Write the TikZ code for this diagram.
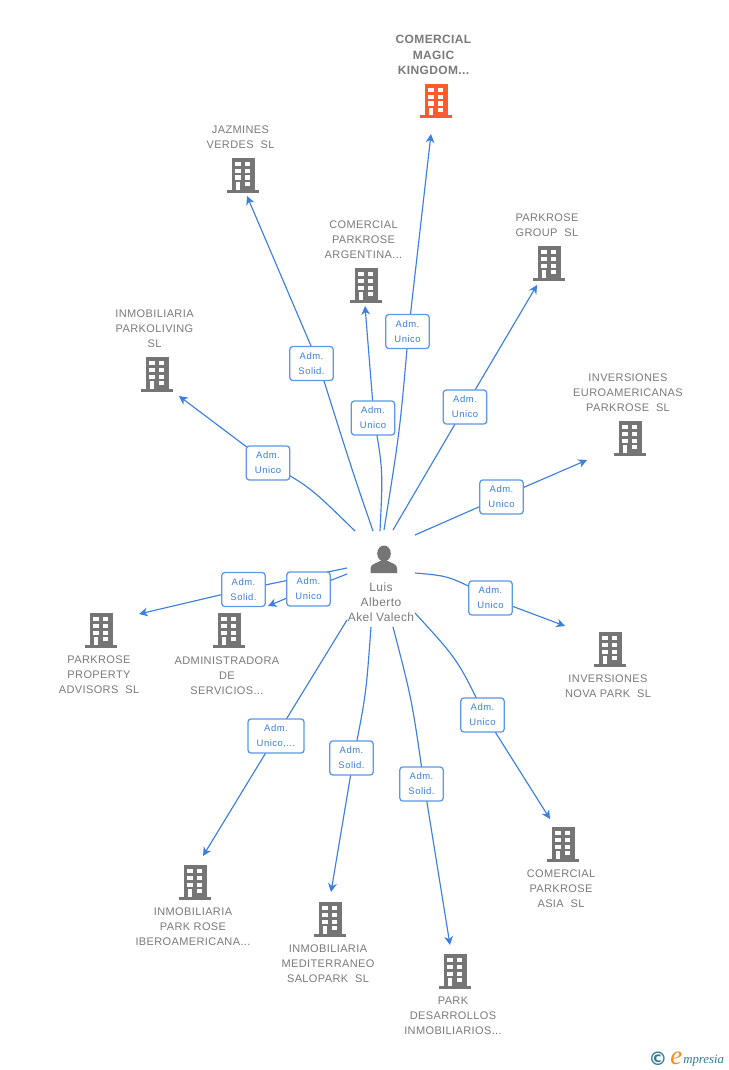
\documentclass[tikz,border=0pt]{standalone}
\usepackage{fontspec}
\setmainfont{Liberation Sans}
\newfontfamily\lblfont[LetterSpace=3.5]{Liberation Sans}
\newfontfamily\hotfont[LetterSpace=3]{Liberation Sans}
\newfontfamily\rolefont[LetterSpace=5]{Liberation Sans}
\newfontfamily\logofont{Liberation Serif}
\newfontfamily\symfont{DejaVu Sans}
\usetikzlibrary{arrows.meta,calc}
\definecolor{edgeblue}{HTML}{3B7FDF}
\definecolor{boxblue}{HTML}{5C98E6}
\definecolor{icongray}{HTML}{757575}
\definecolor{labelgray}{HTML}{7A7A7A}
\definecolor{hot}{HTML}{FF5A2B}
\definecolor{logoteal}{HTML}{2F7C96}
\definecolor{logoorange}{HTML}{F58A1F}
\tikzset{
  x=0.75pt,y=-0.75pt,
  edge/.style={draw=edgeblue,line width=0.85pt},
  tip/.style={-{Stealth[length=6.5pt,width=6.5pt,inset=2pt]}},
  role/.style={draw=boxblue,line width=0.95pt,fill=white,rounded corners=2.2pt,minimum width=32.5pt,minimum height=25.5pt,inner sep=0pt,align=center,font=\rolefont\fontsize{7.1}{11.3}\selectfont,text=edgeblue},
  company/.style={font=\lblfont\fontsize{8.25}{11.25}\selectfont,text=labelgray,align=center,inner sep=0pt},
  hotcompany/.style={font=\hotfont\bfseries\fontsize{9}{11.9}\selectfont,text=labelgray,align=center,inner sep=0pt},
  personlabel/.style={font=\lblfont\fontsize{9}{11.25}\selectfont,text=labelgray,align=center,inner sep=0pt},
  icon/.style={inner sep=0pt,minimum width=24pt,minimum height=25.5pt},
}
% name, centre x, top y, colour
\newcommand{\bldg}[4]{%
  \node[icon] (#1) at (#2,#3+17) {};
  \begin{scope}[shift={(#2,#3)}]
    \fill[#4] (-11.5,0) rectangle (11.5,32);
    \fill[#4] (-16,31.5) rectangle (16,34.5);
    \foreach \yy in {4,11,17.5}{
      \fill[white] (-7.7,\yy) rectangle (-2.4,\yy+4.4);
      \fill[white] (2,\yy) rectangle (7.3,\yy+4.4);
    }
    \fill[white] (2,24) rectangle (7.3,28.4);
    \fill[white] (-7.4,24) rectangle (-2.8,31.5);
  \end{scope}}
\begin{document}
\begin{tikzpicture}
\useasboundingbox (0,0) rectangle (728,1070);
\fill[white] (0,0) rectangle (728,1070);
% person
\node[inner sep=0pt,minimum width=20pt,minimum height=20pt] (person) at (384,560) {};
\fill[icongray] (384,553.5) ellipse (6.8 and 8);
\fill[icongray] (370.5,573) -- (370.5,568) .. controls (371,564) and (376,563.5) .. (380,561) -- (388,561) .. controls (392,563.5) and (397,564) .. (397,568) -- (397,573) -- cycle;
\node[personlabel] (personname) at (381,602) {Luis\\Alberto\\Akel Valech};
% buildings
\bldg{magic}{436}{84}{hot}
\bldg{jazmines}{243}{158}{icongray}
\bldg{argentina}{366}{268}{icongray}
\bldg{group}{549}{246}{icongray}
\bldg{parkoliving}{157}{357}{icongray}
\bldg{euro}{630}{421}{icongray}
\bldg{property}{101}{613}{icongray}
\bldg{admin}{229}{613}{icongray}
\bldg{nova}{610}{632}{icongray}
\bldg{asia}{563}{827}{icongray}
\bldg{iberoamericana}{195}{865}{icongray}
\bldg{mediterraneo}{330}{902}{icongray}
\bldg{desarrollos}{455}{954}{icongray}
% labels
\node[hotcompany] (magicL) at (433.5,55) {COMERCIAL\\MAGIC\\KINGDOM...};
\node[company] (jazminesL) at (240.5,137) {JAZMINES\\VERDES\ \ SL};
\node[company] (argentinaL) at (363.5,239.5) {COMERCIAL\\PARKROSE\\ARGENTINA...};
\node[company] (groupL) at (547,225) {PARKROSE\\GROUP\ \ SL};
\node[company] (parkolivingL) at (154.5,329) {INMOBILIARIA\\PARKOLIVING\\SL};
\node[company] (euroL) at (628,393) {INVERSIONES\\EUROAMERICANAS\\PARKROSE\ \ SL};
\node[company] (propertyL) at (99,675) {PARKROSE\\PROPERTY\\ADVISORS\ \ SL};
\node[company] (adminL) at (227,675.5) {ADMINISTRADORA\\DE\\SERVICIOS...};
\node[company] (novaL) at (608,686) {INVERSIONES\\NOVA PARK\ \ SL};
\node[company] (asiaL) at (561,888.5) {COMERCIAL\\PARKROSE\\ASIA\ \ SL};
\node[company] (iberoamericanaL) at (193,926.5) {INMOBILIARIA\\PARK ROSE\\IBEROAMERICANA...};
\node[company] (mediterraneoL) at (328,963.5) {INMOBILIARIA\\MEDITERRANEO\\SALOPARK\ \ SL};
\node[company] (desarrollosL) at (453,1016) {PARK\\DESARROLLOS\\INMOBILIARIOS...};
% free ends of connectors
\coordinate (s1) at (384,530); \coordinate (e1) at (431,134);
\coordinate (s2) at (373,531); \coordinate (e2) at (247,196);
\coordinate (s3) at (380,531); \coordinate (e3) at (365,306);
\coordinate (s4) at (393,530); \coordinate (e4) at (537,285);
\coordinate (s5) at (355,531); \coordinate (e5) at (179,396);
\coordinate (s6) at (415,535); \coordinate (e6) at (587,460);
\coordinate (s7) at (415,573); \coordinate (e7) at (565,626);
\coordinate (s8) at (347,568); \coordinate (e8) at (139,614);
\coordinate (s9) at (347,574); \coordinate (e9) at (268,606);
\coordinate (s10) at (347,620); \coordinate (e10) at (203,856);
\coordinate (s11) at (371,627); \coordinate (e11) at (331,892);
\coordinate (s12) at (393,627); \coordinate (e12) at (450,945);
\coordinate (s13) at (415,613); \coordinate (e13) at (550,819);
% role boxes positions
\coordinate (b1) at (407.5,331.5);
\coordinate (b2) at (311.5,363.5);
\coordinate (b3) at (373,418);
\coordinate (b4) at (465,407);
\coordinate (b5) at (268,463);
\coordinate (b6) at (501.5,497);
\coordinate (b7) at (490.5,598);
\coordinate (b8) at (243.5,589.5);
\coordinate (b9) at (308.5,589);
\coordinate (b10) at (276,736);
\coordinate (b11) at (351.5,758);
\coordinate (b12) at (421.5,784);
\coordinate (b13) at (482.5,715);
% connectors (bends hidden behind the role boxes)
\draw[edge,tip] (s1) .. controls (400,430) .. ($(b1)+(1,0)$) -- (e1);
\draw[edge,tip] (s2) .. controls (352,470) .. ($(b2)+(7,0)$) -- (e2);
\draw[edge,tip] (s3) .. controls (383,470) .. ($(b3)+(1,0)$) -- (e3);
\draw[edge,tip] (s4) -- (b4) -- (e4);
\draw[edge,tip] (s5) .. controls (310,487) .. (b5) -- (e5);
\draw[edge,tip] (s6) -- (b6) -- (e6);
\draw[edge,tip] (s7) .. controls (450,576) .. (b7) -- (e7);
\draw[edge,tip] (s8) -- (b8) -- (e8);
\draw[edge,tip] (s9) -- (b9) -- (e9);
\draw[edge,tip] (s10) -- (b10) -- (e10);
\draw[edge,tip] (s11) .. controls (366,695) .. ($(b11)+(2,0)$) -- (e11);
\draw[edge,tip] (s12) .. controls (412,700) .. ($(b12)+(2.5,0)$) -- (e12);
\draw[edge,tip] (s13) .. controls (458,660) .. ($(b13)+(2,0)$) -- (e13);
% role boxes
\node[role] (r1) at (b1) {Adm.\\Unico};
\node[role] (r2) at (b2) {Adm.\\Solid.};
\node[role] (r3) at (b3) {Adm.\\Unico};
\node[role] (r4) at (b4) {Adm.\\Unico};
\node[role] (r5) at (b5) {Adm.\\Unico};
\node[role] (r6) at (b6) {Adm.\\Unico};
\node[role] (r7) at (b7) {Adm.\\Unico};
\node[role] (r8) at (b8) {Adm.\\Solid.};
\node[role] (r9) at (b9) {Adm.\\Unico};
\node[role,minimum width=42pt] (r10) at (b10) {Adm.\\Unico,...};
\node[role] (r11) at (b11) {Adm.\\Solid.};
\node[role] (r12) at (b12) {Adm.\\Solid.};
\node[role] (r13) at (b13) {Adm.\\Unico};
% logo
\node[inner sep=0pt,text=logoteal,font=\symfont\bfseries\fontsize{14}{14}\selectfont] (copyright) at (658,1059) {©};
\node[inner sep=0pt,text=logoteal,font=\logofont\itshape\fontsize{9.6}{11}\selectfont,anchor=base west] (mark) at (683,1063) {mpresia};
\node[inner sep=0pt,text=logoorange,font=\logofont\itshape\fontsize{20}{20}\selectfont,anchor=base west] (emark) at (670,1064) {e};
\end{tikzpicture}
\end{document}
